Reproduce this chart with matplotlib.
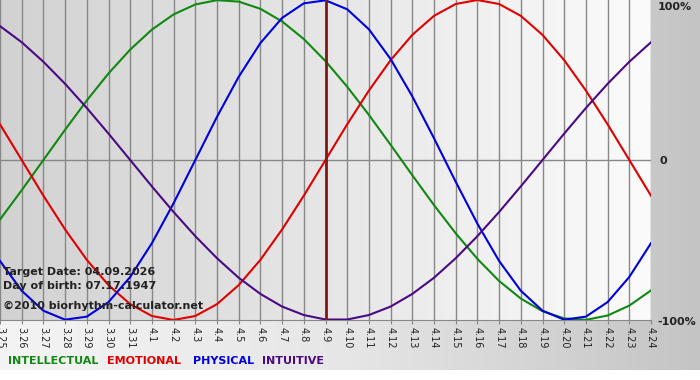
import numpy as np
import matplotlib.pyplot as plt
from matplotlib.colors import LinearSegmentedColormap

days = ['3.25', '3.26', '3.27', '3.28', '3.29', '3.30', '3.31',
        '4.1', '4.2', '4.3', '4.4', '4.5', '4.6', '4.7', '4.8', '4.9',
        '4.10', '4.11', '4.12', '4.13', '4.14', '4.15', '4.16', '4.17',
        '4.18', '4.19', '4.20', '4.21', '4.22', '4.23', '4.24']

intellectual = [-0.372, -0.189, 0.0, 0.189, 0.372, 0.541, 0.690, 0.815, 0.910,
                0.972, 0.999, 0.990, 0.945, 0.866, 0.756, 0.618, 0.458, 0.282,
                0.095, -0.095, -0.282, -0.458, -0.618, -0.756, -0.866, -0.945,
                -0.990, -0.999, -0.972, -0.910, -0.815]
emotional = [0.223, 0.0, -0.223, -0.434, -0.624, -0.782, -0.901, -0.975,
             -1.0, -0.975, -0.901, -0.782, -0.624, -0.434, -0.223, 0.0,
             0.223, 0.434, 0.624, 0.782, 0.901, 0.975, 1.0, 0.975, 0.901,
             0.782, 0.624, 0.434, 0.223, 0.0, -0.223]
physical = [-0.631, -0.817, -0.942, -0.998, -0.979, -0.888, -0.731, -0.520,
            -0.270, 0.0, 0.270, 0.520, 0.731, 0.888, 0.979, 0.998, 0.942,
            0.817, 0.631, 0.398, 0.136, -0.136, -0.398, -0.631, -0.817,
            -0.942, -0.998, -0.979, -0.888, -0.731, -0.520]
intuitive = [0.837, 0.736, 0.614, 0.476, 0.325, 0.165, 0.0, -0.165, -0.325,
             -0.476, -0.614, -0.736, -0.837, -0.916, -0.969, -0.997, -0.997,
             -0.969, -0.916, -0.837, -0.736, -0.614, -0.476, -0.325, -0.165,
             0.0, 0.165, 0.325, 0.476, 0.614, 0.736]

target_day = '4.9'
target_text = 'Target Date: 04.09.2026'
birth_text = 'Day of birth: 07.17.1947'
copy_text = '\u00a92010 biorhythm-calculator.net'

series = [('INTELLECTUAL', intellectual, '#118811'),
          ('EMOTIONAL', emotional, '#e00000'),
          ('PHYSICAL', physical, '#0000dd'),
          ('INTUITIVE', intuitive, '#4b0a82')]

W, H = 700, 380
fig = plt.figure(figsize=(7, 3.8), dpi=100)
fig.patch.set_facecolor('white')

# outer background (gradient panel, white strip at the very bottom)
bg = fig.add_axes([0, 10 / H, 1, 1 - 10 / H], zorder=0)
bg.imshow(np.linspace(0, 1, 256).reshape(1, -1), aspect='auto',
          cmap=LinearSegmentedColormap.from_list(
              'o', ['#f4f4f4', '#e6e6e6', '#c4c4c4']),
          extent=[0, 1, 0, 1])
bg.axis('off')

x = np.arange(len(days))
ax = fig.add_axes([0, 1 - 320 / H, 651 / W, 320 / H], zorder=1)
ax.set_facecolor('none')
ax.imshow(np.linspace(0, 1, 256).reshape(1, -1), aspect='auto',
          cmap=LinearSegmentedColormap.from_list('p', ['#d2d2d2', '#fbfbfb']),
          extent=[0, len(days) - 1, -1, 1], zorder=0)

for xi in x:
    ax.axvline(xi, color='#888888', lw=1.0, zorder=1)
ax.axhline(0, color='#888888', lw=1.0, zorder=1)

for name, vals, col in series:
    ax.plot(x, vals, color=col, lw=1.5, zorder=3)

ax.axvline(days.index(target_day), color='#801818', lw=2.0, zorder=4)

ax.set_xlim(0, len(days) - 1)
ax.set_ylim(-1, 1)
ax.set_yticks([])
ax.set_xticks(x)
ax.set_xticklabels(days, rotation=-90, fontsize=7, color='#222222')
ax.tick_params(axis='x', length=3, color='#888888', pad=2)
for s in ['top', 'left', 'right']:
    ax.spines[s].set_visible(False)
ax.spines['bottom'].set_color('#888888')

# right side percentage labels
fig.text(658 / W, 1 - 7 / H, '100%', fontsize=8, fontweight='bold',
         va='center', ha='left', color='#222222', zorder=5)
fig.text(660 / W, 1 - 161 / H, '0', fontsize=8, fontweight='bold',
         va='center', ha='left', color='#222222', zorder=5)
fig.text(657 / W, 1 - 322 / H, '-100%', fontsize=8, fontweight='bold',
         va='center', ha='left', color='#222222', zorder=5)

# info text
fig.text(3 / W, 1 - 272 / H, target_text, fontsize=8, fontweight='bold',
         va='center', color='#222222', zorder=5)
fig.text(3 / W, 1 - 286 / H, birth_text, fontsize=8, fontweight='bold',
         va='center', color='#222222', zorder=5)
fig.text(3 / W, 1 - 306 / H, copy_text, fontsize=8, fontweight='bold',
         va='center', color='#222222', zorder=5)

# legend
lx = [8, 107, 193, 262]
for (name, vals, col), px in zip(series, lx):
    fig.text(px / W, 1 - 361 / H, name, fontsize=8, fontweight='bold',
             va='center', color=col, zorder=5)

fig.savefig('out.png', dpi=100)
